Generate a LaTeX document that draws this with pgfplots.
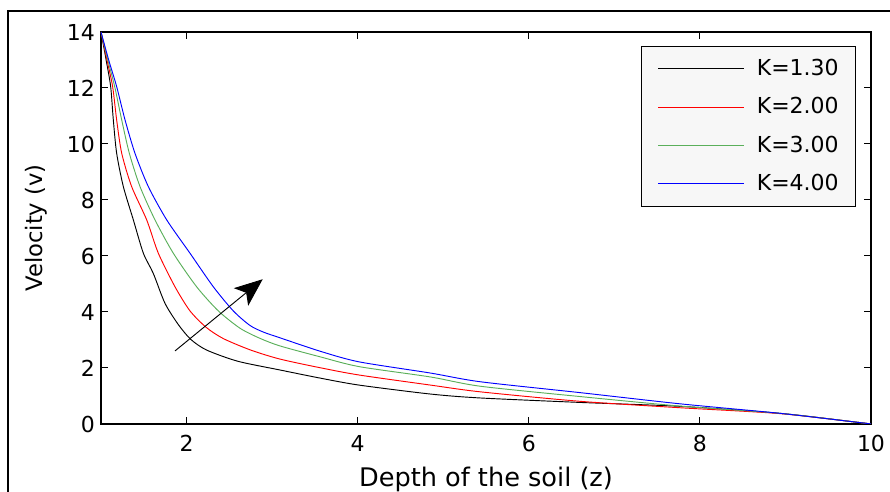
\documentclass[border=0pt]{standalone}
\usepackage{pgfplots}
\pgfplotsset{compat=1.18}
\usepackage{fontspec}
\setmainfont{DejaVu Sans}
\usetikzlibrary{arrows.meta}
\definecolor{mgreen}{RGB}{90,175,90}
\newcommand{\fs}{\fontsize{16.5}{20}\selectfont}
\pgfplotsset{longline/.style={legend image code/.code={\draw[##1] (0pt,0pt) -- (64.5pt,0pt);}}}

\begin{document}
\begin{tikzpicture}
\useasboundingbox (0,0) rectangle (667.5pt,369pt);
\draw[line width=0.9pt] (6pt,-5pt) -- (6pt,360.75pt) -- (672pt,360.75pt);
\begin{axis}[
  at={(75.75pt,51pt)}, anchor=south west,
  scale only axis, width=577.5pt, height=294pt,
  xmin=1, xmax=10, ymin=0, ymax=14,
  xtick={2,4,6,8,10}, ytick={0,2,...,14},
  /pgf/number format/assume math mode=true,
  tick label style={font=\fs},
  xticklabel style={yshift=-5pt},
  yticklabel style={xshift=-1pt},
  axis line style={line width=0.9pt},
  tick style={black, line width=0.75pt},
  major tick length=5pt,
  xlabel={Depth of the soil (z)},
  ylabel={Velocity (v)},
  xlabel style={font=\fontsize{19.2}{22}\selectfont, at={(axis description cs:0.5,-0.1582)}, anchor=base},
  ylabel style={font=\fontsize{17}{20}\selectfont, at={(axis description cs:-0.0760,0.5)}, anchor=base},
  legend cell align=left,
  longline,
  legend style={at={(0.9805,0.9643)}, anchor=north east,
    fill={rgb,255:red,247;green,247;blue,247},
    font=\fs, inner xsep=12.75pt, inner ysep=9pt,
    row sep=12.7pt, column sep=9pt,
    nodes={inner sep=0pt, text height=13pt, text depth=3pt}},
  every axis plot/.append style={line width=0.7pt, smooth, tension=0.45},
]
\addplot[black] coordinates {
(1.000,14.00) (1.060,13.00) (1.113,12.05) (1.144,10.86) (1.183,9.67) (1.261,8.48)
(1.378,7.29) (1.495,6.10) (1.611,5.38) (1.748,4.31) (1.904,3.55) (2.050,3.02) (2.235,2.64)
(2.600,2.24) (3.090,1.93) (3.560,1.64) (4.015,1.39) (4.850,1.07) (5.430,0.93) (6.600,0.77) (7.770,0.63)
(8.940,0.38) (9.870,0.05) (10.000,0.00)};
\addlegendentry{K=1.30}
\addplot[red] coordinates {
(1.000,14.00) (1.070,13.00) (1.136,12.05) (1.183,10.86) (1.242,9.67) (1.358,8.48)
(1.534,7.29) (1.670,6.10) (1.865,4.90) (2.040,4.04) (2.230,3.45) (2.430,3.05) (2.750,2.64) (3.090,2.32)
(3.560,2.01) (4.015,1.75) (4.850,1.39) (5.430,1.15) (6.600,0.81) (7.770,0.58) (8.940,0.37) (9.870,0.05)
(10.000,0.00)};
\addlegendentry{K=2.00}
\addplot[mgreen] coordinates {
(1.000,14.00) (1.080,13.00) (1.160,12.05) (1.242,10.86) (1.331,9.67) (1.456,8.48)
(1.631,7.29) (1.845,6.10) (2.118,4.90) (2.371,4.04) (2.625,3.42) (2.850,3.07) (3.090,2.79)
(3.560,2.40) (4.015,2.05) (4.850,1.68) (5.430,1.35) (6.600,0.98) (7.770,0.64) (8.940,0.38) (9.870,0.05)
(10.000,0.00)};
\addlegendentry{K=3.00}
\addplot[blue] coordinates {
(1.000,14.00) (1.090,13.00) (1.183,12.05) (1.281,10.86) (1.397,9.67) (1.553,8.48)
(1.768,7.29) (2.040,6.10) (2.313,4.90) (2.546,4.04) (2.741,3.52) (2.900,3.28) (3.090,3.08)
(3.560,2.60) (4.015,2.22) (4.850,1.82) (5.430,1.51) (6.600,1.12) (7.770,0.72) (8.940,0.38) (9.870,0.05)
(10.000,0.00)};
\addlegendentry{K=4.00}
\draw[black, line width=0.7pt, -{Stealth[length=21pt,width=17pt,inset=5pt]}]
  (axis cs:1.865,2.61) -- (axis cs:2.89,5.17);
\end{axis}
\end{tikzpicture}
\end{document}
